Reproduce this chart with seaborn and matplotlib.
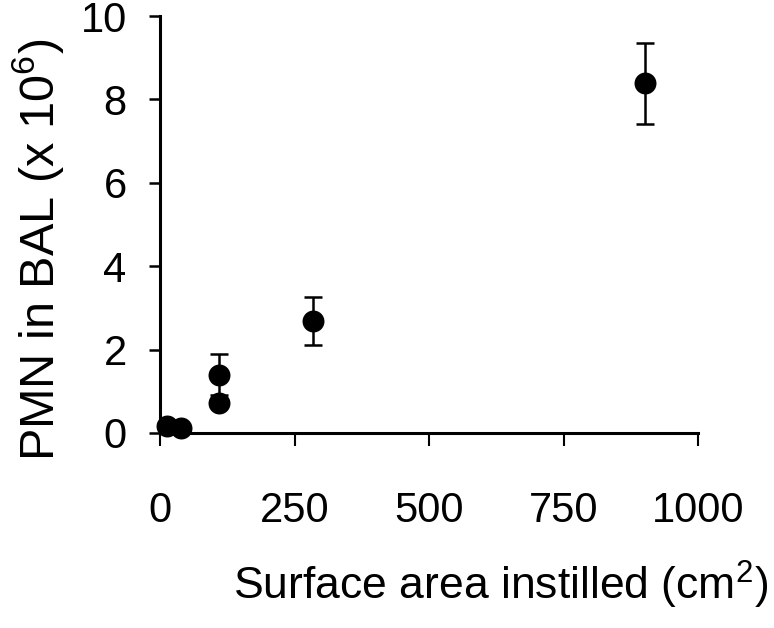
import matplotlib
matplotlib.use("Agg")
import matplotlib.pyplot as plt
import pandas as pd
import seaborn as sns

# values
surface_area = [13, 39, 110, 110, 285, 901]
pmn = [0.17, 0.13, 0.72, 1.40, 2.69, 8.39]
pmn_err = [0.0, 0.0, 0.0, 0.50, 0.57, 0.97]

x_ticks = [0, 250, 500, 750, 1000]
y_ticks = [0, 2, 4, 6, 8, 10]

df = pd.DataFrame({"area": surface_area, "pmn": pmn, "err": pmn_err})

sns.set_style("ticks")
plt.rcParams["font.family"] = ["Liberation Sans", "DejaVu Sans"]
plt.rcParams["mathtext.fontset"] = "custom"
plt.rcParams["mathtext.rm"] = "Liberation Sans"
plt.rcParams["mathtext.it"] = "Liberation Sans"
for key in ["text.color", "axes.labelcolor", "xtick.color", "ytick.color",
            "axes.edgecolor"]:
    plt.rcParams[key] = "black"

fig = plt.figure(figsize=(7.74, 6.28), dpi=100)
ax = fig.add_axes([160 / 774, 195 / 628, 538 / 774, 417 / 628])

bars = df[df["err"] > 0]
ax.errorbar(
    bars["area"], bars["pmn"], yerr=bars["err"], fmt="none",
    ecolor="black", elinewidth=1.8, capsize=6.5, capthick=1.8, zorder=2,
)
sns.scatterplot(
    data=df, x="area", y="pmn", color="black", s=250,
    edgecolor="black", linewidth=0, ax=ax, zorder=3, clip_on=False,
)

ax.set_xlim(0, 1000)
ax.set_ylim(0, 10)
ax.set_xticks(x_ticks)
ax.set_yticks(y_ticks)
ax.tick_params(axis="x", direction="out", length=9.5, width=1.5,
               pad=32, labelsize=30)
ax.tick_params(axis="y", direction="out", length=8, width=1.8,
               pad=16, labelsize=30)

for side in ["top", "right"]:
    ax.spines[side].set_visible(False)
for side in ["left", "bottom"]:
    ax.spines[side].set_linewidth(2.2)

ax.set_ylabel(r"PMN in BAL (x 10$^{6}$)", fontsize=35, va="center")
ax.yaxis.set_label_coords(-0.227, 0.44)
ax.set_xlabel(r"Surface area instilled (cm$^{2}$)", fontsize=32,
              ha="right", va="center")
ax.xaxis.set_label_coords(1.13, -0.365)

fig.savefig("out.png", dpi=100)
